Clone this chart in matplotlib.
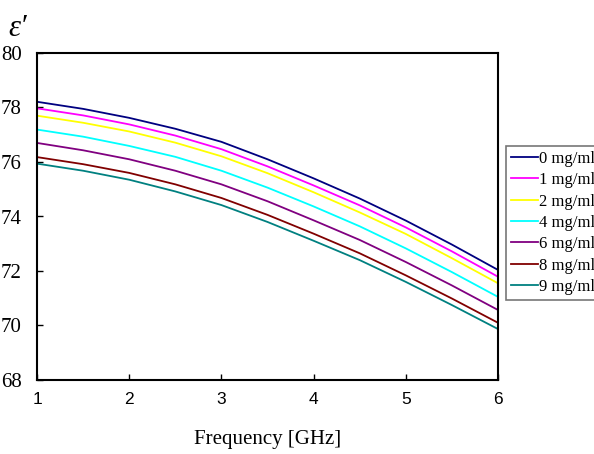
import numpy as np
import matplotlib.pyplot as plt

# frequency points (GHz) and permittivity
freq = [1.0, 1.5, 2.0, 2.5, 3.0, 3.5, 4.0, 4.5, 5.0, 5.5, 6.0]
eps_0 = [78.21, 77.95, 77.62, 77.22, 76.74, 76.10, 75.40, 74.66, 73.85, 72.97, 72.04]
eps_1 = [77.97, 77.71, 77.38, 76.97, 76.47, 75.84, 75.14, 74.41, 73.60, 72.72, 71.79]
eps_2 = [77.70, 77.44, 77.12, 76.71, 76.21, 75.59, 74.89, 74.15, 73.36, 72.47, 71.55]
eps_4 = [77.19, 76.93, 76.59, 76.19, 75.68, 75.06, 74.37, 73.64, 72.83, 71.96, 71.05]
eps_6 = [76.70, 76.43, 76.10, 75.68, 75.18, 74.56, 73.86, 73.14, 72.33, 71.47, 70.57]
eps_8 = [76.18, 75.92, 75.60, 75.18, 74.68, 74.06, 73.37, 72.65, 71.84, 70.99, 70.10]
eps_9 = [75.94, 75.68, 75.35, 74.92, 74.42, 73.80, 73.11, 72.40, 71.60, 70.75, 69.87]

labels = ['0 mg/ml', '1 mg/ml', '2 mg/ml', '4 mg/ml', '6 mg/ml', '8 mg/ml', '9 mg/ml']
series = [eps_0, eps_1, eps_2, eps_4, eps_6, eps_8, eps_9]
colors = ['#000080', '#FF00FF', '#FFFF00', '#00FFFF', '#800080', '#800000', '#008080']

fig = plt.figure(figsize=(5.94, 4.54), dpi=100)
ax = fig.add_axes([37/594, 1 - 380/454, (498 - 37)/594, (380 - 53)/454])

for s, c, lab in zip(series, colors, labels):
    ax.plot(freq, s, color=c, lw=1.3, label=lab)

ax.set_xlim(1, 6)
ax.set_ylim(68, 80)
ax.set_xticks([1, 2, 3, 4, 5, 6])
ax.set_yticks([68, 70, 72, 74, 76, 78, 80])

for sp in ax.spines.values():
    sp.set_linewidth(1.5)
    sp.set_color('black')

ax.tick_params(direction='in', length=4, width=1)
ax.tick_params(axis='x', pad=9, labelsize=12.5)
ax.tick_params(axis='y', pad=11, labelsize=15)
for t in ax.get_xticklabels():
    t.set_fontfamily('Liberation Sans')
for t in ax.get_yticklabels():
    t.set_fontfamily('Liberation Serif')

ax.set_xlabel('Frequency [GHz]', fontsize=15, family='Liberation Serif', labelpad=16)
fig.text(8/594, 1 - 28/454, "ε′", fontsize=22, va='center', ha='left',
         family='Liberation Serif', style='italic')

leg = fig.legend(loc='upper left', bbox_to_anchor=(506/594, 1 - 146/454),
                 prop={'family': 'Liberation Serif', 'size': 12},
                 frameon=True, fancybox=False, edgecolor='#555555',
                 handlelength=1.6, handletextpad=0.1, labelspacing=0.32,
                 borderpad=0.3, borderaxespad=0)
leg.get_frame().set_linewidth(1.2)

fig.savefig('out.png', dpi=100)
